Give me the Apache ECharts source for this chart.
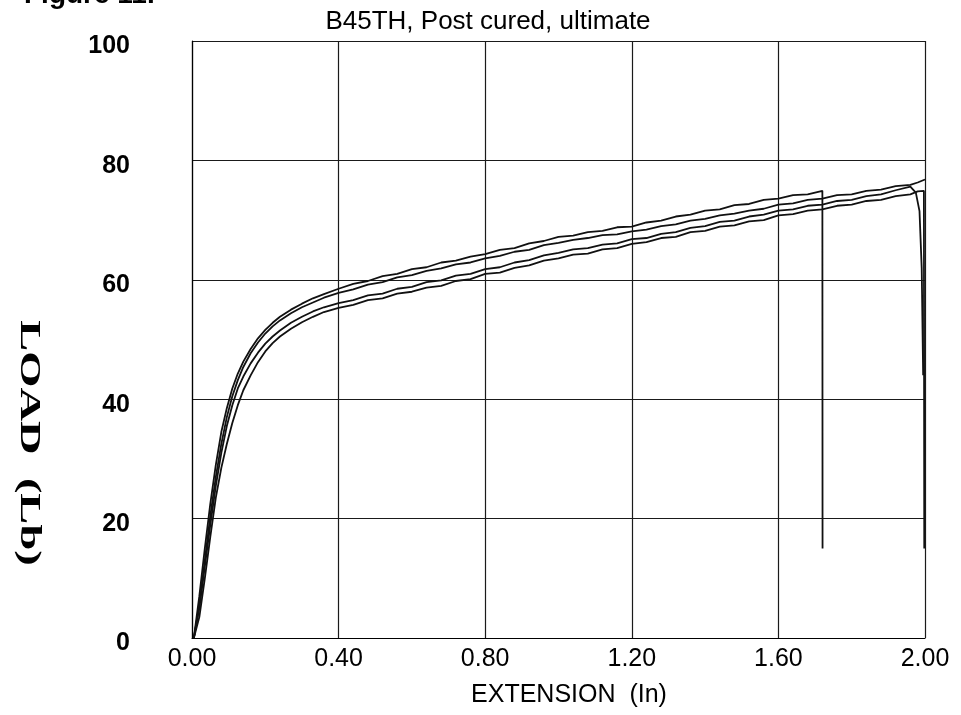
<!DOCTYPE html>
<html>
<head>
<meta charset="utf-8">
<script src="https://cdn.jsdelivr.net/npm/echarts@6/dist/echarts.min.js"></script>
<style>html,body{margin:0;padding:0;background:#fff}#c{width:961px;height:715px}</style>
</head>
<body>
<div id="c"></div>
<script>
// Shared extension grid (in)
const extension = [0.005, 0.02, 0.035, 0.05, 0.065, 0.08, 0.095, 0.11, 0.125, 0.14, 0.16, 0.18, 0.2, 0.22, 0.24, 0.27, 0.3, 0.33, 0.36,
  0.40, 0.44, 0.48, 0.52, 0.56, 0.60, 0.64, 0.68, 0.72, 0.76, 0.80, 0.84, 0.88, 0.92, 0.96, 1.00, 1.04, 1.08, 1.12, 1.16,
  1.20, 1.24, 1.28, 1.32, 1.36, 1.40, 1.44, 1.48, 1.52, 1.56, 1.60, 1.64, 1.68, 1.72, 1.76, 1.80, 1.84, 1.88, 1.92, 1.96];

// Load (Lb) for each specimen on the shared grid
const loadA = [0, 7, 15, 22.5, 29, 34.5, 38.5, 41.8, 44.3, 46.3, 48.4, 50.2, 51.6, 52.8, 53.8, 55, 56, 56.9, 57.6,
  58.5, 59.3, 59.8, 60.6, 61.0, 61.8, 62.1, 62.9, 63.2, 63.9, 64.3, 65.0, 65.3, 66.1, 66.5, 67.2, 67.4, 68.0, 68.2, 68.8,
  68.9, 69.6, 69.9, 70.6, 70.9, 71.6, 71.8, 72.5, 72.7, 73.4, 73.6, 74.2, 74.3, 74.9];
const loadB = [0, 5.5, 13, 20.5, 27, 32.5, 37, 40.5, 43.2, 45.4, 47.7, 49.5, 51, 52.2, 53.2, 54.4, 55.4, 56.2, 57.0,
  57.8, 58.4, 59.2, 59.6, 60.4, 60.8, 61.5, 61.9, 62.6, 62.9, 63.6, 64.0, 64.7, 65.0, 65.8, 66.2, 66.7, 67.0, 67.5, 67.6,
  68.1, 68.4, 69.0, 69.3, 69.9, 70.2, 70.8, 71.1, 71.6, 71.9, 72.6, 72.8, 73.4, 73.6, 74.2, 74.3, 74.9, 75.1, 75.7, 75.9];
const loadC = [0, 5, 12, 19, 25.5, 31, 35.5, 39, 41.8, 43.8, 46, 47.8, 49.3, 50.5, 51.5, 52.8, 53.8, 54.7, 55.4,
  56.1, 56.6, 57.4, 57.7, 58.5, 58.8, 59.6, 59.9, 60.7, 61.0, 61.8, 62.1, 62.9, 63.3, 64.1, 64.5, 65.1, 65.3, 65.9, 66.1,
  66.8, 67.0, 67.7, 68.0, 68.7, 69.0, 69.7, 69.9, 70.6, 70.9, 71.6, 71.8, 72.4, 72.6, 73.2, 73.4, 74.0, 74.3, 75.0, 75.6];
const loadD = [0, 3.5, 10, 17, 23.5, 28.5, 32.5, 36, 39, 41.5, 44, 46.2, 48, 49.4, 50.5, 51.8, 52.9, 53.8, 54.6,
  55.3, 55.8, 56.6, 56.9, 57.7, 58.0, 58.7, 59.0, 59.8, 60.1, 61.0, 61.2, 62.0, 62.4, 63.2, 63.6, 64.2, 64.4, 65.1, 65.3,
  66.0, 66.3, 67.0, 67.2, 68.0, 68.2, 68.9, 69.1, 69.8, 70.0, 70.8, 71.0, 71.6, 71.8, 72.4, 72.6, 73.2, 73.4, 74.0, 74.3];

// Failure tails of each specimen
const tailExtA = [1.7205];          const tailLoadA = [15];
const tailExtB = [1.98, 2.0];       const tailLoadB = [76.3, 76.8];
const tailExtC = [1.975, 1.985, 1.991, 1.995]; const tailLoadC = [74.6, 71.5, 62, 44];
const tailExtD = [1.98, 1.997, 1.998];         const tailLoadD = [74.8, 74.9, 15];

// Axis ticks
const xTicks = [0, 0.4, 0.8, 1.2, 1.6, 2.0];
const yTicks = [0, 20, 40, 60, 80, 100];

function pairs(load, tailX, tailY) {
  const out = [];
  for (let i = 0; i < load.length; i++) out.push([extension[i], load[i]]);
  for (let i = 0; i < tailX.length; i++) out.push([tailX[i], tailY[i]]);
  return out;
}

const chart = echarts.init(document.getElementById('c'), null, {renderer: 'canvas'});
const lineSeries = (name, data) => ({
  name, type: 'line', data, showSymbol: false, symbol: 'none', clip: true,
  lineStyle: {color: '#111', width: 1.8}, animation: false, z: 3
});
const sans = 'Liberation Sans, Arial, sans-serif';

chart.setOption({
  backgroundColor: '#fff',
  animation: false,
  title: {
    text: 'B45TH, Post cured, ultimate', left: 483, top: 4, textAlign: 'center',
    textStyle: {fontSize: 26, fontWeight: 'normal', color: '#000', fontFamily: sans}
  },
  grid: {left: 192, right: 36, top: 41, bottom: 77, containLabel: false},
  xAxis: {
    type: 'value', min: xTicks[0], max: xTicks[xTicks.length - 1], interval: 0.4,
    axisLine: {show: true, lineStyle: {color: '#000', width: 1.2}},
    axisTick: {show: false},
    axisLabel: {color: '#000', fontSize: 25, fontFamily: sans, margin: 9,
      formatter: v => v.toFixed(2), showMinLabel: true, showMaxLabel: true},
    splitLine: {show: true, lineStyle: {color: '#1a1a1a', width: 1.2}}
  },
  yAxis: {
    type: 'value', min: yTicks[0], max: yTicks[yTicks.length - 1], interval: 20,
    axisLine: {show: true, lineStyle: {color: '#000', width: 1.2}},
    axisTick: {show: false},
    axisLabel: {color: '#000', fontSize: 25, fontWeight: 'bold', fontFamily: sans, margin: 62,
      verticalAlign: 'top', lineHeight: 11},
    splitLine: {show: true, lineStyle: {color: '#1a1a1a', width: 1.2}}
  },
  graphic: [
    {type: 'text', x: 569, y: 695,
      style: {text: 'EXTENSION  (In)', font: 'normal 25px Liberation Sans, Arial, sans-serif', fill: '#000',
        textAlign: 'center', textVerticalAlign: 'middle', align: 'center', verticalAlign: 'middle'}},
    {type: 'text', x: 29, y: 443, rotation: -Math.PI / 2, scaleX: 1.55,
      style: {text: 'LOAD  (Lb)', font: 'bold 30px Liberation Serif, Times New Roman, serif', fill: '#000',
        align: 'center', verticalAlign: 'middle', textAlign: 'center', textVerticalAlign: 'middle'}},
    {type: 'text', x: 24, y: 9,
      style: {text: 'Figure 11.', font: 'bold 28px Liberation Sans, Arial, sans-serif', fill: '#000',
        align: 'left', verticalAlign: 'bottom', textAlign: 'left', textVerticalAlign: 'bottom'}}
  ],
  series: [
    lineSeries('A', pairs(loadA, tailExtA, tailLoadA)),
    lineSeries('B', pairs(loadB, tailExtB, tailLoadB)),
    lineSeries('C', pairs(loadC, tailExtC, tailLoadC)),
    lineSeries('D', pairs(loadD, tailExtD, tailLoadD))
  ]
});
</script>
</body>
</html>
